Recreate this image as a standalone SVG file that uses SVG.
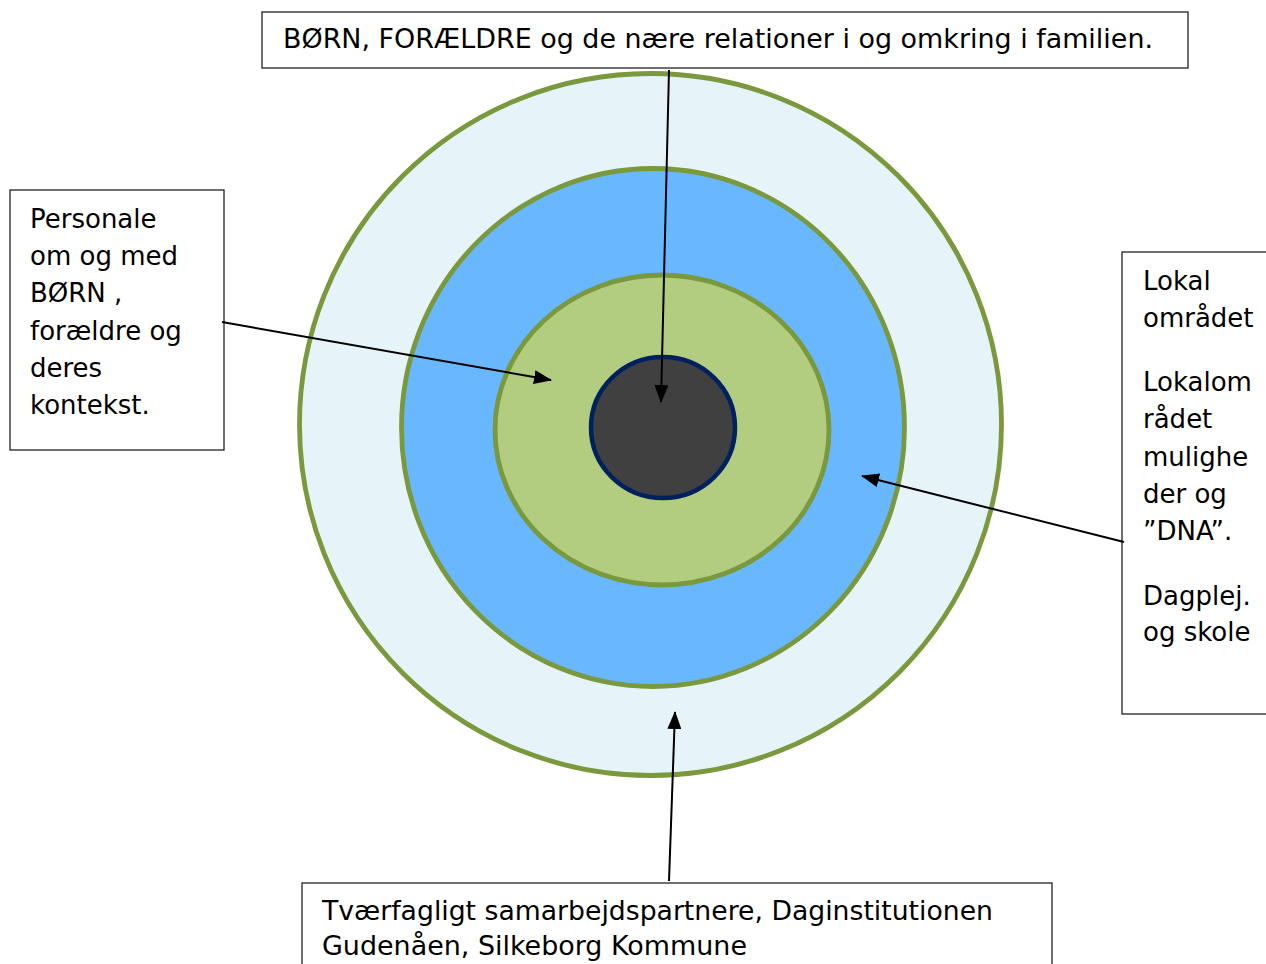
<svg xmlns="http://www.w3.org/2000/svg" width="1266" height="964" viewBox="0 0 1266 964">
<style>
.box{fill:#fff;stroke:#222;stroke-width:1.3}
.t{font-family:"DejaVu Sans",Verdana,sans-serif;font-size:26px;fill:#000}
.ring{stroke:#7A983C;stroke-width:4.8}
.conn{stroke:#000;stroke-width:2;fill:none;marker-end:url(#ah)}
</style>
<defs>
<marker id="ah" viewBox="0 0 18 14" refX="17" refY="7" markerWidth="18" markerHeight="14" markerUnits="userSpaceOnUse" orient="auto">
<path d="M0,0 L18,7 L0,14 Z" fill="#000"/>
</marker>
</defs>
<rect width="1266" height="964" fill="#fff"/>
<g id="circles">
<ellipse id="outer" class="ring" cx="650.5" cy="424.5" rx="351" ry="351" fill="#E6F4F9"/>
<ellipse id="middle" class="ring" cx="653" cy="427.5" rx="251.5" ry="259" fill="#69B8FF"/>
<ellipse id="inner" class="ring" cx="662" cy="430" rx="167" ry="155" fill="#B2CC80"/>
<ellipse id="core" cx="663" cy="427.5" rx="72" ry="70.5" fill="#404040" stroke="#002060" stroke-width="4.5"/>
</g>
<g id="top-box">
<rect class="box" x="262" y="12" width="926" height="56"/>
<text class="t" x="283" y="48" font-size="25" textLength="870" lengthAdjust="spacingAndGlyphs">BØRN, FORÆLDRE og de nære relationer i og omkring i familien.</text>
</g>
<g id="left-box">
<rect class="box" x="10" y="190" width="214" height="260"/>
<text class="t"><tspan x="30" y="228">Personale</tspan><tspan x="30" y="265">om og med</tspan><tspan x="30" y="302">BØRN ,</tspan><tspan x="30" y="340">forældre og</tspan><tspan x="30" y="377">deres</tspan><tspan x="30" y="414">kontekst.</tspan></text>
</g>
<g id="right-box">
<rect class="box" x="1122" y="252" width="160" height="462"/>
<text class="t"><tspan x="1143" y="290">Lokal</tspan><tspan x="1143" y="327">området</tspan><tspan x="1143" y="391">Lokalom</tspan><tspan x="1143" y="428">rådet</tspan><tspan x="1143" y="466">mulighe</tspan><tspan x="1143" y="503">der og</tspan><tspan x="1143" y="540">”DNA”.</tspan><tspan x="1143" y="605">Dagplej.</tspan><tspan x="1143" y="641">og skole</tspan></text>
</g>
<g id="bottom-box">
<rect class="box" x="302" y="883" width="750" height="100"/>
<text class="t" font-size="26"><tspan x="322" y="920" textLength="671" lengthAdjust="spacingAndGlyphs">Tværfagligt samarbejdspartnere, Daginstitutionen</tspan><tspan x="322" y="955" textLength="425" lengthAdjust="spacingAndGlyphs">Gudenåen, Silkeborg Kommune</tspan></text>
</g>
<g id="connectors">
<line class="conn" x1="669" y1="70" x2="661" y2="402"/>
<line class="conn" x1="222" y1="322" x2="551" y2="380"/>
<line class="conn" x1="1124" y1="542" x2="862" y2="476"/>
<line class="conn" x1="669" y1="881" x2="675" y2="712"/>
</g>
</svg>
